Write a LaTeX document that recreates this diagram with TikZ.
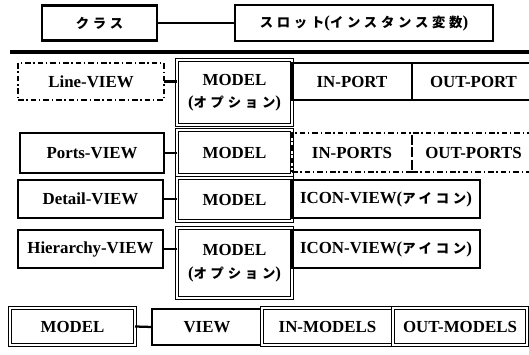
\documentclass[tikz,border=0pt]{standalone}
\usepackage{fontspec}
\setmainfont{Liberation Serif}
\newfontfamily\jfont{Noto Sans CJK JP}[LetterSpace=28]
\usetikzlibrary{positioning}
\newlength\pxu
\setlength\pxu{0.025cm}
\newcommand{\jp}[1]{{\jfont\bfseries\fontsize{9.5}{15}\selectfont #1}}
\tikzset{
  box/.style={draw, inner sep=0pt, outer sep=0pt, align=center, font=\bfseries\fontsize{12}{16}\selectfont},
  thinbox/.style={box, line width=0.8pt},
  thickbox/.style={box, line width=2pt},
  dashbox/.style={box, line width=0.9pt, dash pattern=on 4pt off 2pt on 1pt off 2pt},
  dblbox/.style={box, double, line width=1.1pt, double distance=0.8pt},
  link/.style={line width=1.6pt},
}

\begin{document}
\begin{tikzpicture}[x=0.025cm, y=-0.025cm]
  \useasboundingbox (0,0) rectangle (529,355);

  % class / slot
  \node[thickbox, minimum width={115*\pxu}, minimum height={35*\pxu}] (cls) at (99.5,23) {\jp{クラス}};
  \node[thinbox, minimum width={258*\pxu}, minimum height={36*\pxu}] (slot) at (364,23) {\jp{スロット}(\jp{インスタンス変数})};
  \draw[link] (cls.east) -- (slot.west);

  \coordinate (rulel) at (10,52);
  \coordinate (ruler) at (535,52);
  \draw[line width=2.2pt] (rulel) -- (ruler);

  % Line-VIEW
  \node[dashbox, minimum width={146*\pxu}, minimum height={37*\pxu}] (lineview) at (91,81.5) {Line-VIEW};
  \node[dblbox, minimum width={115*\pxu}, minimum height={65*\pxu}] (model1) at (234.5,92.5) {MODEL\\(\jp{オプション})};
  \node[thinbox, minimum width={120*\pxu}, minimum height={37*\pxu}] (inport) at (352,81.5) {IN-PORT};
  \node[thinbox, minimum width={123*\pxu}, minimum height={37*\pxu}] (outport) at (473.5,81.5) {OUT-PORT};
  \draw[link] (lineview.east) -- (lineview.east -| model1.west);

  % Ports-VIEW
  \node[thinbox, minimum width={144*\pxu}, minimum height={40*\pxu}] (portsview) at (92,153) {Ports-VIEW};
  \node[dblbox, minimum width={115*\pxu}, minimum height={45*\pxu}] (model2) at (234.5,152.5) {MODEL};
  \node[dashbox, minimum width={120*\pxu}, minimum height={39*\pxu}] (inports) at (352,152.5) {IN-PORTS};
  \node[dashbox, minimum width={123*\pxu}, minimum height={39*\pxu}] (outports) at (473.5,152.5) {OUT-PORTS};
  \draw[link] (portsview.east) -- (portsview.east -| model2.west);

  % Detail-VIEW
  \node[thickbox, minimum width={145*\pxu}, minimum height={38*\pxu}] (detailview) at (90.5,199) {Detail-VIEW};
  \node[dblbox, minimum width={115*\pxu}, minimum height={43*\pxu}] (model3) at (234.5,199.5) {MODEL};
  \node[thinbox, minimum width={188*\pxu}, minimum height={38*\pxu}] (icon1) at (386,199) {ICON-VIEW(\jp{アイコン})};
  \draw[link] (detailview.east) -- (detailview.east -| model3.west);

  % Hierarchy-VIEW
  \node[thickbox, minimum width={145*\pxu}, minimum height={38*\pxu}] (hierview) at (90.5,249) {Hierarchy-VIEW};
  \node[dblbox, minimum width={115*\pxu}, minimum height={70*\pxu}] (model4) at (234.5,263) {MODEL\\(\jp{オプション})};
  \node[thinbox, minimum width={188*\pxu}, minimum height={38*\pxu}] (icon2) at (386,249) {ICON-VIEW(\jp{アイコン})};
  \draw[link] (hierview.east) -- (hierview.east -| model4.west);

  % MODEL class
  \node[dblbox, minimum width={125*\pxu}, minimum height={37*\pxu}] (model5) at (72.5,326.5) {MODEL};
  \node[thinbox, minimum width={110*\pxu}, minimum height={36*\pxu}] (view) at (207,327) {VIEW};
  \node[dblbox, minimum width={131*\pxu}, minimum height={37*\pxu}] (inmodels) at (327.5,326.5) {IN-MODELS};
  \node[dblbox, minimum width={134*\pxu}, minimum height={37*\pxu}] (outmodels) at (460,326.5) {OUT-MODELS};
  \draw[link] (model5.east) -- (view.west);
\end{tikzpicture}
\end{document}
